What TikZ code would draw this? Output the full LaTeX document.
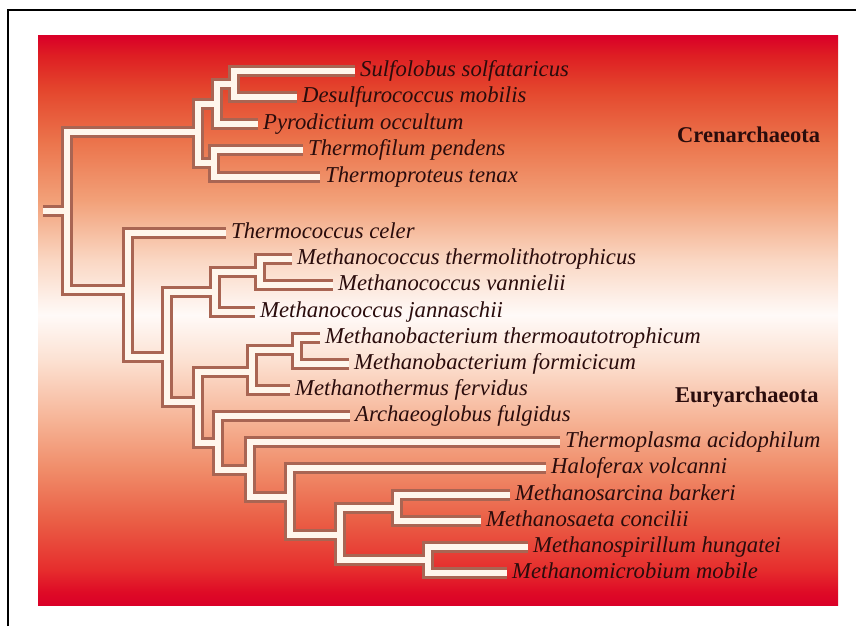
\documentclass[tikz,border=0pt]{standalone}
\usepackage{fontspec}
\setmainfont{Liberation Serif}
\usepackage{xcolor}
\usepackage{tikz}
\usetikzlibrary{positioning}
\definecolor{deepred}{HTML}{DA0028}
\definecolor{barkbrown}{HTML}{A96553}
\definecolor{barkcream}{HTML}{FFF6EC}
\definecolor{inkdark}{HTML}{2A0C0C}
\definecolor{glowa}{HTML}{DE0A26}
\definecolor{glowb}{HTML}{E62D2D}
\definecolor{glowc}{HTML}{EA5F46}
\definecolor{glowd}{HTML}{F08C69}
\definecolor{glowe}{HTML}{F6B496}
\definecolor{glowf}{HTML}{FCE1D2}
\definecolor{glowg}{HTML}{FFFAF8}
\definecolor{glowh}{HTML}{FAD7C3}
\definecolor{glowi}{HTML}{F2A078}
\definecolor{glowj}{HTML}{EB734B}
\definecolor{glowk}{HTML}{E4462D}
\definecolor{glowl}{HTML}{DE1E23}
\pgfdeclareverticalshading{redglow}{100bp}{color(0bp)=(deepred); color(25bp)=(deepred);
  color(26.1bp)=(glowa); color(28.1bp)=(glowb); color(32.5bp)=(glowc); color(36.9bp)=(glowd);
  color(41.3bp)=(glowe); color(46.5bp)=(glowf); color(50.5bp)=(glowg); color(55.3bp)=(glowh);
  color(60.6bp)=(glowi); color(65.8bp)=(glowj); color(70.3bp)=(glowk); color(73.3bp)=(glowl);
  color(75bp)=(deepred); color(100bp)=(deepred)}
\tikzset{
  frame/.style={draw=black, line width=2pt},
  branch/.style={draw=barkbrown, line width=12pt},
  branchcore/.style={draw=barkcream, line width=6pt},
  taxon/.style={anchor=west, inner xsep=5pt, inner ysep=0pt, text height=16pt, text depth=5pt,
                font=\fontsize{22.7pt}{26pt}\selectfont\itshape, text=inkdark},
  clade/.style={anchor=west, inner sep=0pt, font=\fontsize{22.5pt}{26pt}\selectfont\bfseries, text=inkdark},
}
\newcommand\treeedges{rt/cren, rt/eury,
  cren/csa, cren/csc, csa/csb, csa/pyro, csb/sulfo, csb/desulf, csc/tfil, csc/tprot,
  eury/tcoc, eury/ea, ea/mc, ea/eb, mc/mcs, mc/mjan, mcs/mthl, mcs/mvan,
  eb/mb, eb/ec, mb/mbs, mb/mferv, mbs/mbth, mbs/mbfo,
  ec/aglo, ec/ed, ed/tpla, ed/ee, ee/hvol, ee/ef, ef/msa, ef/msp,
  msa/msar, msa/msae, msp/mspi, msp/mmic}

\begin{document}
\begin{tikzpicture}[x=1pt, y=-1pt]
  \useasboundingbox (0,0) rectangle (856,626);
  % frame and backdrop
  \draw[frame] (8,626) |- (856,10);
  \shade[shading=redglow] (38,36) rectangle (838,605);

  % Crenarchaeota
  \node[taxon] (sulfo)  at (355,71)    {Sulfolobus solfataricus};
  \node[taxon] (desulf) at (297,97.4)  {Desulfurococcus mobilis};
  \node[taxon] (pyro)   at (258,123.8) {Pyrodictium occultum};
  \node[taxon] (tfil)   at (303,150.2) {Thermofilum pendens};
  \node[taxon] (tprot)  at (320,176.6) {Thermoproteus tenax};
  % Euryarchaeota
  \node[taxon] (tcoc)  at (226,233)   {Thermococcus celer};
  \node[taxon] (mthl)  at (292,259.2) {Methanococcus thermolithotrophicus};
  \node[taxon] (mvan)  at (333,285.3) {Methanococcus vannielii};
  \node[taxon] (mjan)  at (255,311.5) {Methanococcus jannaschii};
  \node[taxon] (mbth)  at (320,337.6) {Methanobacterium thermoautotrophicum};
  \node[taxon] (mbfo)  at (349,363.8) {Methanobacterium formicicum};
  \node[taxon] (mferv) at (290,389.9) {Methanothermus fervidus};
  \node[taxon] (aglo)  at (350,416.1) {Archaeoglobus fulgidus};
  \node[taxon] (tpla)  at (560,442.2) {Thermoplasma acidophilum};
  \node[taxon] (hvol)  at (546,468.4) {Haloferax volcanni};
  \node[taxon] (msar)  at (510,494.5) {Methanosarcina barkeri};
  \node[taxon] (msae)  at (481,520.7) {Methanosaeta concilii};
  \node[taxon] (mspi)  at (528,546.8) {Methanospirillum hungatei};
  \node[taxon] (mmic)  at (507,573)   {Methanomicrobium mobile};

  \node[clade] (crenlab) at (677,135) {Crenarchaeota};
  \node[clade] (eurylab) at (675,397) {Euryarchaeota};

  % branch points
  \coordinate (stub) at (43,211);
  \coordinate (rt)   at (67,211);
  \coordinate (cren) at (198,132);
  \coordinate (csa)  at (217,104);
  \coordinate (csb)  at (234,84);
  \coordinate (csc)  at (214,163);
  \coordinate (eury) at (128,290);
  \coordinate (ea)   at (167,357);
  \coordinate (mc)   at (215,292);
  \coordinate (mcs)  at (260,272);
  \coordinate (eb)   at (198,402);
  \coordinate (mb)   at (252,372);
  \coordinate (mbs)  at (297,350);
  \coordinate (ec)   at (218,443);
  \coordinate (ed)   at (250,470);
  \coordinate (ee)   at (290,497);
  \coordinate (ef)   at (340,535);
  \coordinate (msa)  at (397,508);
  \coordinate (msp)  at (428,560);

  % tree: dark rim first, light core on top
  \draw[branch] (stub) -- (rt);
  \foreach \from/\to in \treeedges
    \draw[branch] (\from) |- (\to);
  \draw[branchcore] (stub) -- (rt);
  \foreach \from/\to in \treeedges
    \draw[branchcore] (\from) |- (\to);
\end{tikzpicture}
\end{document}
